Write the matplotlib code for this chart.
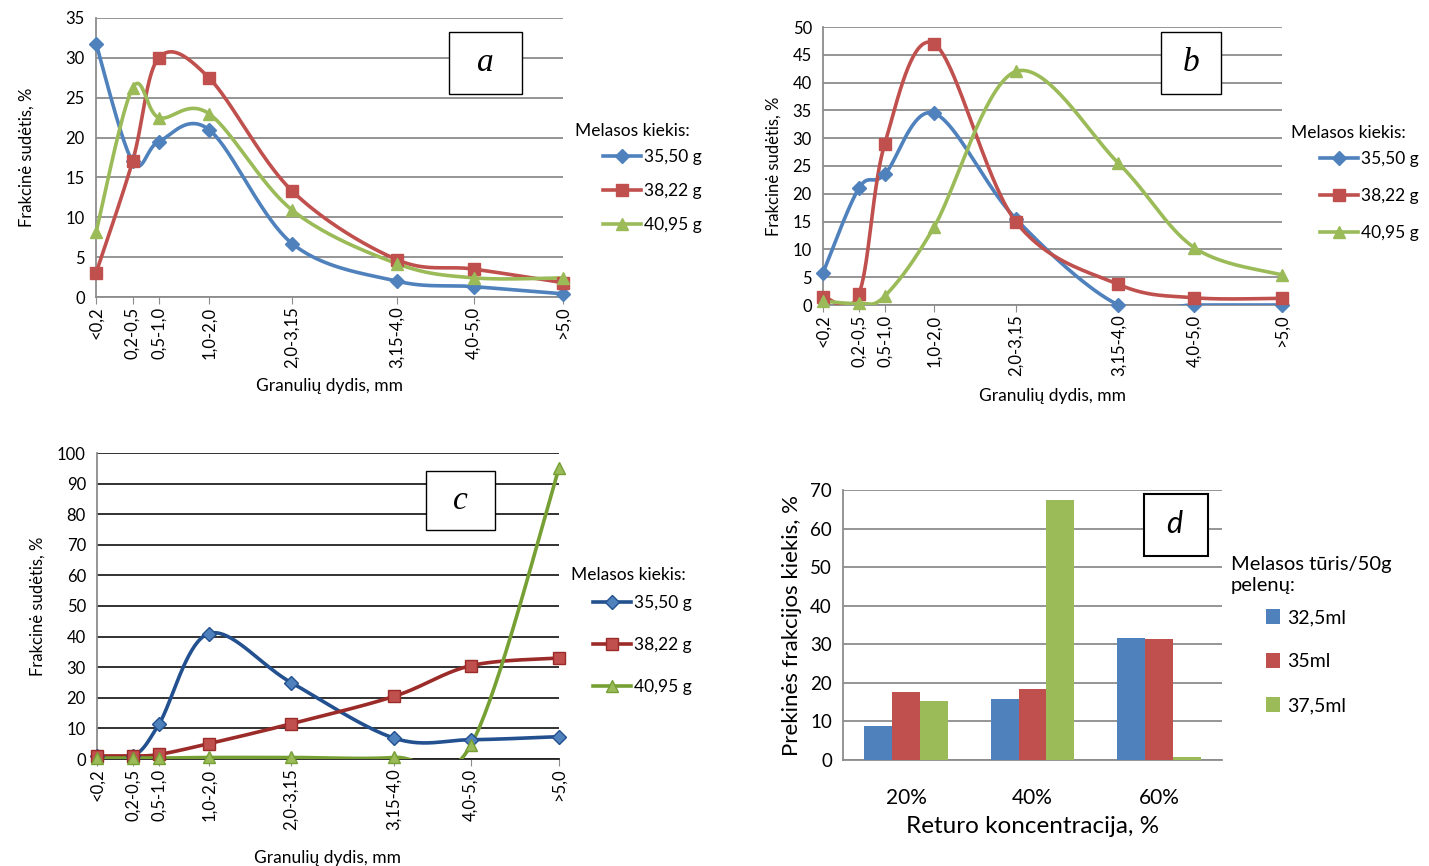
import numpy as np
import matplotlib
matplotlib.use("Agg")
import matplotlib.pyplot as plt
from matplotlib.lines import Line2D
from matplotlib.patches import Rectangle, Patch

plt.rcParams['font.family'] = ['Lato', 'DejaVu Sans']

# size classes (mm) and their positions on the x scale
sizes = ['<0,2', '0,2-0,5', '0,5-1,0', '1,0-2,0', '2,0-3,15', '3,15-4,0', '4,0-5,0', '>5,0']
size_x = [0, 0.43, 0.74, 1.33, 2.31, 3.54, 4.45, 5.5]
series_names = ['35,50 g', '38,22 g', '40,95 g']

# panel a
a_blue = [31.8, 17.0, 19.5, 21.0, 6.7, 2.0, 1.3, 0.4]
a_red = [3.0, 17.0, 30.0, 27.5, 13.3, 4.7, 3.5, 1.8]
a_green = [8.1, 26.2, 22.5, 23.0, 10.9, 4.2, 2.4, 2.4]
# panel b
b_blue = [5.8, 21.0, 23.5, 34.5, 15.5, 0.0, 0.0, 0.0]
b_red = [1.5, 2.0, 29.0, 47.0, 15.0, 3.7, 1.3, 1.2]
b_green = [0.7, 0.3, 1.6, 14.0, 42.0, 25.5, 10.3, 5.4]
# panel c
c_blue = [1.0, 1.0, 11.5, 41.0, 25.0, 6.8, 6.3, 7.3]
c_red = [1.0, 1.0, 1.5, 5.0, 11.5, 20.5, 30.5, 33.0]
c_green = [0.3, 0.3, 0.3, 0.5, 0.5, 0.5, 4.5, 95.0]
# panel d
d_cats = ['20%', '40%', '60%']
d_names = ['32,5ml', '35ml', '37,5ml']
d_vals = [[8.7, 15.7, 31.6],
          [17.7, 18.4, 31.4],
          [15.2, 67.4, 0.7]]

BLUE, RED, GREEN = '#4F81BD', '#C0504D', '#9BBB59'
GRID = '#8C8C8C'


def smooth(x, y, n=40):
    # Excel-style smoothed line (Bezier through points)
    pts = np.column_stack([x, y]).astype(float)
    P = np.vstack([pts[0], pts, pts[-1]])
    t = np.linspace(0, 1, n)[:, None]
    out = []
    for i in range(1, len(P) - 2):
        p0, p1, p2, p3 = P[i - 1], P[i], P[i + 1], P[i + 2]
        c1 = p1 + (p2 - p0) / 6
        c2 = p2 - (p3 - p1) / 6
        out.append((1 - t) ** 3 * p1 + 3 * (1 - t) ** 2 * t * c1 + 3 * (1 - t) * t ** 2 * c2 + t ** 3 * p2)
    out = np.vstack(out)
    return out[:, 0], out[:, 1]


fig = plt.figure(figsize=(14.29, 8.66), dpi=100)


def px(x0, y_top, w, h):
    return [x0 / 1429, 1 - (y_top + h) / 866, w / 1429, h / 866]


def line_panel(rect, series, ymax, ystep, grid_col, ylab_pad, xlab_pad, leg_title_xy, leg_xy, leg_space, label_pos):
    ax = fig.add_axes(rect)
    handles = []
    for (vals, lc, fc, mk, ms) in series:
        sx, sy = smooth(size_x, vals)
        ax.plot(sx, sy, color=lc, lw=2.6, zorder=3, solid_capstyle='round')
        ax.plot(size_x, vals, ls='none', marker=mk, ms=ms, mfc=fc, mec=lc, mew=1, zorder=4, clip_on=False)
        handles.append(Line2D([], [], color=lc, lw=2.6, marker=mk, ms=ms, mfc=fc, mec=lc))
    ax.set_xlim(0, 5.5)
    ax.set_ylim(0, ymax)
    ax.set_yticks(np.arange(0, ymax + 1, ystep))
    ax.yaxis.grid(True, color=grid_col, lw=1.3)
    ax.set_axisbelow(True)
    ax.set_xticks(size_x)
    ax.set_xticklabels(sizes, rotation=90, fontsize=12)
    ax.tick_params(axis='x', length=5, color=GRID, pad=2)
    ax.tick_params(axis='y', length=0, labelsize=12, pad=8)
    for s in ['top', 'right']:
        ax.spines[s].set_visible(False)
    ax.spines['left'].set_color(GRID)
    ax.spines['bottom'].set_color(grid_col)
    ax.spines['left'].set_linewidth(1.3)
    ax.spines['bottom'].set_linewidth(1.3)
    ax.set_ylabel('Frakcinė sudėtis, %', fontsize=12, labelpad=ylab_pad)
    ax.set_xlabel('Granulių dydis, mm', fontsize=12.5, labelpad=xlab_pad)
    fig.text(leg_title_xy[0] / 1429, 1 - leg_title_xy[1] / 866, 'Melasos kiekis:', fontsize=12.5,
             va='center', ha='left')
    ax.legend(handles, series_names, loc='upper left', frameon=False, fontsize=12.5,
              bbox_to_anchor=(leg_xy[0] / 1429, 1 - leg_xy[1] / 866), bbox_transform=fig.transFigure,
              borderpad=0, borderaxespad=0, handlelength=2.2, handletextpad=0.15, labelspacing=leg_space)
    x0, y0, w, h, lab, fam = label_pos
    fig.add_artist(Rectangle((x0 / 1429, 1 - (y0 + h) / 866), w / 1429, h / 866, transform=fig.transFigure,
                             facecolor='white', edgecolor='black', lw=1, zorder=10))
    fig.text((x0 + w / 2) / 1429, 1 - (y0 + h / 2) / 866, lab, fontsize=24, style='italic',
             family=fam, ha='center', va='center', zorder=11)
    return ax


line_panel(px(96, 18, 467, 279),
           [(a_blue, BLUE, BLUE, 'D', 7), (a_red, RED, RED, 's', 8.5), (a_green, GREEN, GREEN, '^', 9)],
           35, 5, GRID, 22, 7, (575, 131), (603, 149), 1.05, (449, 32, 73, 62, 'a', 'Liberation Serif'))

line_panel(px(823, 27, 459, 278),
           [(b_blue, BLUE, BLUE, 'D', 7), (b_red, RED, RED, 's', 8.5), (b_green, GREEN, GREEN, '^', 9)],
           50, 5, GRID, 8, 8, (1291, 133), (1320, 151), 1.2, (1161, 32, 60, 62, 'b', 'Liberation Serif'))

line_panel(px(97, 453, 462, 306),
           [(c_blue, '#23508F', '#4F81BD', 'D', 7), (c_red, '#9B2B28', RED, 's', 8.5),
            (c_green, '#76A034', GREEN, '^', 9)],
           100, 10, '#222222', 8, 14, (571, 575), (593, 595), 1.5, (426, 471, 69, 59, 'c', 'Liberation Serif'))

# panel d
ax = fig.add_axes(px(843, 490, 379, 270))
xc = np.arange(len(d_cats))
bw = 0.22
bar_handles = []
for i, (vals, col) in enumerate(zip(d_vals, [BLUE, RED, GREEN])):
    ax.bar(xc + (i - 1) * bw, vals, width=bw, color=col, zorder=3)
    bar_handles.append(Patch(facecolor=col))
ax.set_xlim(-0.5, 2.5)
ax.set_ylim(0, 70)
ax.set_yticks(np.arange(0, 71, 10))
ax.yaxis.grid(True, color=GRID, lw=1.3)
ax.set_axisbelow(True)
ax.set_xticks(xc)
ax.set_xticklabels(d_cats, fontsize=15)
ax.tick_params(axis='x', length=0, pad=20)
ax.tick_params(axis='y', length=0, labelsize=13.5, pad=8)
for s in ['top', 'right']:
    ax.spines[s].set_visible(False)
ax.spines['left'].set_color(GRID)
ax.spines['bottom'].set_color(GRID)
ax.spines['left'].set_linewidth(1.3)
ax.spines['bottom'].set_linewidth(1.3)
ax.set_ylabel('Prekinės frakcijos kiekis, %', fontsize=16, labelpad=6)
ax.set_xlabel('Returo koncentracija, %', fontsize=17.5, labelpad=6)
fig.text(1231 / 1429, 1 - 575 / 866, 'Melasos tūris/50g\npelenų:', fontsize=14.5, va='center', ha='left',
         linespacing=1.35)
ax.legend(bar_handles, d_names, loc='upper left', frameon=False, fontsize=14,
          bbox_to_anchor=(1266 / 1429, 1 - 609 / 866), bbox_transform=fig.transFigure,
          borderpad=0, borderaxespad=0, handlelength=0.7, handleheight=0.8, handletextpad=0.4,
          labelspacing=1.38)
fig.add_artist(Rectangle((1144 / 1429, 1 - 556 / 866), 64 / 1429, 62 / 866, transform=fig.transFigure,
                         facecolor='white', edgecolor='black', lw=1.5, zorder=10))
fig.text(1174 / 1429, 1 - 524 / 866, 'd', fontsize=22, style='italic', ha='center', va='center', zorder=11)

fig.savefig('out.png', dpi=100)
